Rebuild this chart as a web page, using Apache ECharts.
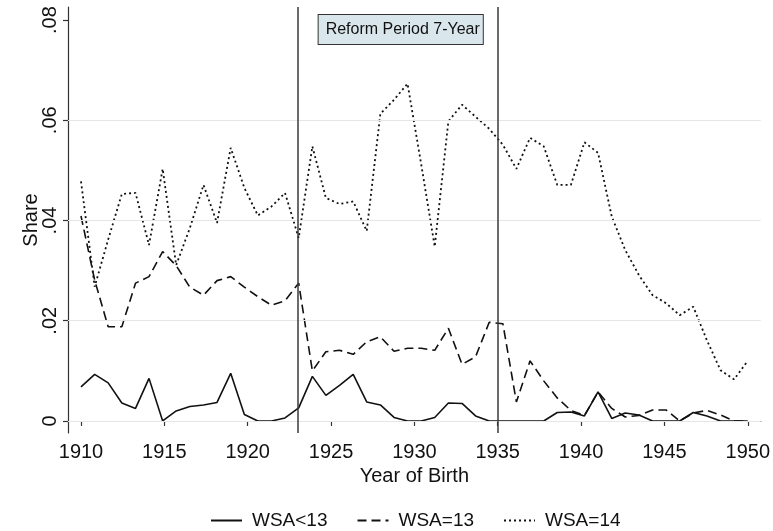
<!DOCTYPE html>
<html>
<head>
<meta charset="utf-8">
<script src="https://cdn.jsdelivr.net/npm/echarts@6/dist/echarts.min.js"></script>
<style>
html,body{margin:0;padding:0;background:#fff;}
#chart{width:773px;height:531px;}
</style>
</head>
<body>
<div id="chart"></div>
<script>
// Birth-year positions of the 50 observations
const years = [1910.00, 1910.82, 1911.63, 1912.45, 1913.27, 1914.08, 1914.90, 1915.71, 1916.53, 1917.35,
  1918.16, 1918.98, 1919.80, 1920.61, 1921.43, 1922.24, 1923.06, 1923.88, 1924.69, 1925.51,
  1926.33, 1927.14, 1927.96, 1928.78, 1929.59, 1930.41, 1931.22, 1932.04, 1932.86, 1933.67,
  1934.49, 1935.31, 1936.12, 1936.94, 1937.76, 1938.57, 1939.39, 1940.20, 1941.02, 1941.84,
  1942.65, 1943.47, 1944.29, 1945.10, 1945.92, 1946.73, 1947.55, 1948.37, 1949.18, 1950.00];

const wsaLt13 = [0.0068, 0.0093, 0.0076, 0.0036, 0.0025, 0.0085, 0.0000, 0.0020, 0.0029, 0.0032,
  0.0037, 0.0095, 0.0013, 0.0000, 0.0000, 0.0006, 0.0026, 0.0089, 0.0051, 0.0071,
  0.0093, 0.0038, 0.0032, 0.0007, 0.0000, 0.0000, 0.0007, 0.0036, 0.0035, 0.0010,
  0.0000, 0.0000, 0.0000, 0.0000, 0.0000, 0.0017, 0.0018, 0.0010, 0.0058, 0.0005,
  0.0016, 0.0012, 0.0000, 0.0000, 0.0000, 0.0017, 0.0010, 0.0000, 0.0000, 0.0000];

const wsa13 = [0.0409, 0.0281, 0.0188, 0.0188, 0.0275, 0.0288, 0.0338, 0.0310, 0.0267, 0.0251,
  0.0280, 0.0288, 0.0267, 0.0248, 0.0231, 0.0240, 0.0275, 0.0100, 0.0138, 0.0141,
  0.0133, 0.0158, 0.0168, 0.0139, 0.0145, 0.0145, 0.0141, 0.0185, 0.0113, 0.0128,
  0.0197, 0.0194, 0.0038, 0.0120, 0.0080, 0.0046, 0.0021, 0.0011, 0.0058, 0.0025,
  0.0008, 0.0011, 0.0022, 0.0022, 0.0000, 0.0016, 0.0021, 0.0012, 0.0000, 0.0000];

const wsa14 = [0.0478, 0.0268, 0.0362, 0.0453, 0.0455, 0.0351, 0.0503, 0.0311, 0.0385, 0.0471,
  0.0395, 0.0545, 0.0465, 0.0410, 0.0428, 0.0455, 0.0365, 0.0548, 0.0445, 0.0433,
  0.0438, 0.0379, 0.0613, 0.0641, 0.0673, 0.0512, 0.0348, 0.0598, 0.0631, 0.0607,
  0.0583, 0.0551, 0.0503, 0.0565, 0.0548, 0.0471, 0.0471, 0.0556, 0.0535, 0.0408,
  0.0341, 0.0291, 0.0251, 0.0235, 0.0211, 0.0228, 0.0161, 0.0101, 0.0083, 0.0120];

const seriesNames = ['WSA<13', 'WSA=13', 'WSA=14'];
const xTicks = [1910, 1915, 1920, 1925, 1930, 1935, 1940, 1945, 1950];
const yTicks = [0, 0.02, 0.04, 0.06, 0.08];
const yTickLabels = ['0', '.02', '.04', '.06', '.08'];
const reformLines = [1923, 1935];
const reformLabel = 'Reform Period 7-Year';

const FONT = '"Liberation Sans", Arial, sans-serif';
const pairs = arr => arr.map((v, i) => [years[i], v]);

const chart = echarts.init(document.getElementById('chart'), null, {renderer: 'canvas'});
chart.setOption({
  animation: false,
  backgroundColor: '#ffffff',
  textStyle: {fontFamily: FONT},
  grid: {left: 68, right: 11, top: 7, bottom: 98, containLabel: false},
  xAxis: {
    type: 'value', min: 1909.22, max: 1950.78,
    name: 'Year of Birth', nameLocation: 'middle', nameGap: 26,
    nameTextStyle: {fontFamily: FONT, fontSize: 20, color: '#111'},
    axisLine: {show: true, lineStyle: {color: '#333', width: 1.2}},
    axisTick: {show: true, length: 5, lineStyle: {color: '#333', width: 1.2}, customValues: xTicks},
    axisLabel: {fontFamily: FONT, fontSize: 20, color: '#111', margin: 9, customValues: xTicks,
      formatter: v => String(Math.round(v))},
    splitLine: {show: false}
  },
  yAxis: {
    type: 'value', min: -0.0024, max: 0.0826,
    name: 'Share', nameLocation: 'middle', nameGap: 27, nameRotate: 90, nameMoveOverlap: false,
    nameTextStyle: {fontFamily: FONT, fontSize: 20, color: '#111'},
    axisLine: {show: true, lineStyle: {color: '#333', width: 1.2}},
    axisTick: {show: true, length: 5, lineStyle: {color: '#333', width: 1.2}, customValues: yTicks},
    axisLabel: {
      fontFamily: FONT, fontSize: 20, color: '#111', rotate: 90, margin: 8,
      customValues: yTicks,
      formatter: v => { const i = yTicks.findIndex(t => Math.abs(t - v) < 1e-9); return i >= 0 ? yTickLabels[i] : ''; }
    },
    splitLine: {show: false}
  },
  legend: {
    data: seriesNames, left: 205, top: 506,
    itemWidth: 31, itemHeight: 14, itemGap: 29,
    itemStyle: {color: 'rgba(0,0,0,0)', borderColor: 'rgba(0,0,0,0)', borderWidth: 0, opacity: 0},
    textStyle: {fontFamily: FONT, fontSize: 19, color: '#111', padding: [0, 0, 0, 5]}
  },
  series: [
    {
      name: '_grid', type: 'line', data: [], silent: true, z: 1,
      markLine: {
        silent: true, symbol: 'none', label: {show: false}, animation: false,
        lineStyle: {color: '#e6e6e6', width: 1.2, type: 'solid'},
        data: yTicks.slice(0, 4).map(v => ({yAxis: v}))
      }
    },
    {
      name: seriesNames[0], type: 'line', data: pairs(wsaLt13), showSymbol: false, symbol: 'none', z: 3,
      lineStyle: {color: '#111', width: 1.6, type: 'solid'}, itemStyle: {color: '#111'},
      markLine: {
        silent: true, symbol: 'none', label: {show: false}, animation: false,
        lineStyle: {color: '#3a3a3a', width: 1.5, type: 'solid'},
        data: reformLines.map(v => ({xAxis: v}))
      },
      markArea: {
        silent: true,
        itemStyle: {color: 'rgba(0,0,0,0)'},
        label: {
          show: true, position: 'insideTop', distance: 8, offset: [3, 0],
          formatter: reformLabel, fontFamily: FONT, fontSize: 16, color: '#111',
          backgroundColor: '#d9e6ec', borderColor: '#333', borderWidth: 1,
          padding: [7, 3, 6, 7]
        },
        data: [[{xAxis: reformLines[0]}, {xAxis: reformLines[1]}]]
      }
    },
    {
      name: seriesNames[1], type: 'line', data: pairs(wsa13), showSymbol: false, symbol: 'none', z: 3,
      lineStyle: {color: '#111', width: 1.6, type: [9, 5]}, itemStyle: {color: '#111'}
    },
    {
      name: seriesNames[2], type: 'line', data: pairs(wsa14), showSymbol: false, symbol: 'none', z: 3,
      lineStyle: {color: '#111', width: 1.8, type: [2, 3]}, itemStyle: {color: '#111'}
    }
  ]
});
</script>
</body>
</html>
